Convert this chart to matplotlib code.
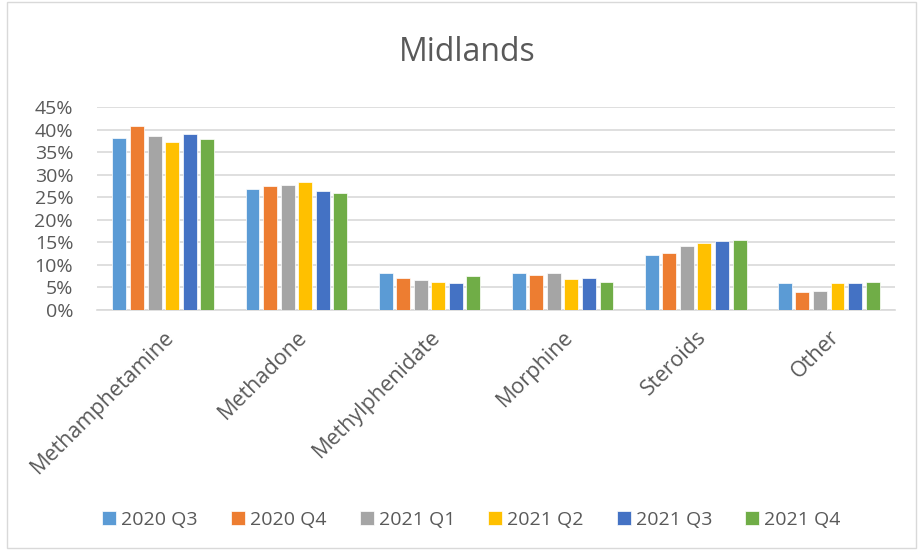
import numpy as np
import matplotlib.pyplot as plt
from matplotlib.patches import Rectangle

categories = ["Methamphetamine", "Methadone", "Methylphenidate", "Morphine", "Steroids", "Other"]
series = ["2020 Q3", "2020 Q4", "2021 Q1", "2021 Q2", "2021 Q3", "2021 Q4"]
q3_2020 = [38.1, 26.9, 8.1, 8.2, 12.3, 6.0]
q4_2020 = [40.7, 27.5, 7.0, 7.8, 12.7, 3.9]
q1_2021 = [38.5, 27.8, 6.7, 8.2, 14.1, 4.2]
q2_2021 = [37.2, 28.4, 6.3, 6.9, 14.9, 6.0]
q3_2021 = [39.0, 26.4, 6.0, 7.2, 15.2, 5.9]
q4_2021 = [37.9, 26.0, 7.5, 6.3, 15.5, 6.3]
values = [q3_2020, q4_2020, q1_2021, q2_2021, q3_2021, q4_2021]
colors = ["#5B9BD5", "#ED7D31", "#A5A5A5", "#FFC000", "#4472C4", "#70AD47"]
yticks = [0, 5, 10, 15, 20, 25, 30, 35, 40, 45]

txt = "#595959"
plt.rcParams['font.family'] = ['Open Sans', 'DejaVu Sans']
plt.rcParams['ytick.major.pad'] = 17
plt.rcParams['xtick.major.pad'] = 12

fig = plt.figure(figsize=(9.22, 5.55), dpi=100)
ax = fig.add_axes([0.105, 0.4414, 0.866, 0.3658])

x = np.arange(len(categories))
slot = 0.132
for i, (name, vals) in enumerate(zip(series, values)):
    ax.bar(x + (i - 2.5) * slot, vals, width=0.105, color=colors[i],
           edgecolor="#FFFFFF", linewidth=0.5, label=name, zorder=3)

ax.set_xlim(-0.5, len(categories) - 0.5)
ax.set_ylim(0, 45)
ax.set_yticks(yticks)
ax.set_yticklabels([f"{t}%" for t in yticks], fontsize=14, color=txt)
ax.yaxis.grid(True, color="#D9D9D9", linewidth=1.2, zorder=0)
ax.tick_params(axis="both", length=0)
ax.set_xticks(x)
ax.set_xticklabels(categories, rotation=45, ha="right", va="top",
                   rotation_mode="anchor", fontsize=15.5, color=txt)
for s in ["top", "right", "left"]:
    ax.spines[s].set_visible(False)
ax.spines["bottom"].set_color("#D9D9D9")
ax.spines["bottom"].set_linewidth(1.2)

fig.text(0.507, 0.905, "Midlands", ha="center", va="center", fontsize=23, color=txt)

fig.legend(loc="center", bbox_to_anchor=(0.5114, 0.063), ncol=6, frameon=False,
           fontsize=14, handlelength=0.72, handleheight=0.72, handletextpad=0.26,
           columnspacing=1.7, labelcolor=txt)

fig.patches.append(Rectangle((0.0076, 0.012), 0.986, 0.984, transform=fig.transFigure,
                             fill=False, edgecolor="#D9D9D9", linewidth=1))

fig.savefig("out.png", dpi=100)
